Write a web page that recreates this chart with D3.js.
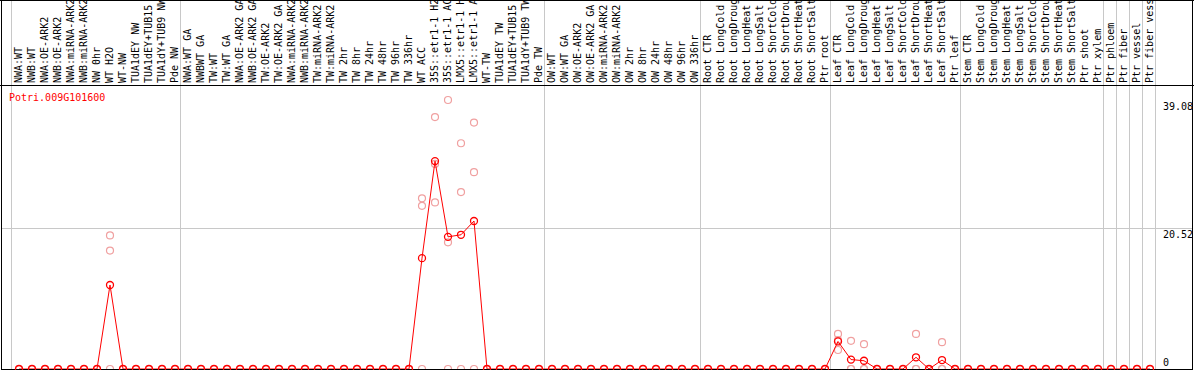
<html>
<head>
<script src="https://d3js.org/d3.v7.min.js" charset="utf-8"></script>
<style>
    body { margin: 0; background: #fff; }
    text { font-family: "DejaVu Sans Mono", monospace; font-size: 10px; }
</style>
</head>
<body>
<script>
    // sample names, as they show in the header (cut to 14 chars)
    var categories = [
        "NWA:WT", "NWB:WT", "NWA:OE-ARK2", "NWB:OE-ARK2", "NWA:miRNA-ARK2", "NWB:miRNA-ARK2", "NW 0hr",
        "WT H2O", "WT-NW", "TUA1dEY NW", "TUA1dEY+TUB15", "TUA1dY+TUB9 NW", "Pde NW",
        "NWA:WT GA", "NWBWT GA", "TW:WT", "TW:WT GA", "NWA:OE-ARK2 GA", "NWB:OE-ARK2 GA", "TW:OE-ARK2",
        "TW:OE-ARK2 GA", "NWA:miRNA-ARK2", "NWB:miRNA-ARK2", "TW:miRNA-ARK2", "TW:miRNA-ARK2", "TW 2hr",
        "TW 8hr", "TW 24hr", "TW 48hr", "TW 96hr", "TW 336hr", "WT ACC", "35S::etr1-1 H2", "35S::etr1-1 AC",
        "LMX5::etr1-1 H", "LMX5::etr1-1 A", "WT-TW", "TUA1dEY TW", "TUA1dEY+TUB15", "TUA1dY+TUB9 TW", "Pde TW",
        "OW:WT", "OW:WT GA", "OW:OE-ARK2", "OW:OE-ARK2 GA", "OW:miRNA-ARK2", "OW:miRNA-ARK2", "OW 2hr",
        "OW 8hr", "OW 24hr", "OW 48hr", "OW 96hr", "OW 336hr",
        "Root CTR", "Root LongCold", "Root LongDroug", "Root LongHeat", "Root LongSalt", "Root ShortCold",
        "Root ShortDrou", "Root ShortHeat", "Root ShortSalt", "Ptr root",
        "Leaf CTR", "Leaf LongCold", "Leaf LongDroug", "Leaf LongHeat", "Leaf LongSalt", "Leaf ShortCold",
        "Leaf ShortDrou", "Leaf ShortHeat", "Leaf ShortSalt", "Ptr leaf",
        "Stem CTR", "Stem LongCold", "Stem LongDroug", "Stem LongHeat", "Stem LongSalt", "Stem ShortCold",
        "Stem ShortDrou", "Stem ShortHeat", "Stem ShortSalt", "Ptr shoot", "Ptr xylem",
        "Ptr phloem", "Ptr fiber", "Ptr vessel", "Ptr fiber vess"
    ];

    // index of the first sample of each group (a grey line goes before it)
    var groupStarts = [0, 13, 41, 53, 63, 73, 84, 85, 86, 87];

    // mean expression per sample (the red line)
    var meanValues = [
        0, 0, 0, 0, 0, 0, 0, 12.2, 0, 0, 0, 0, 0,
        0, 0, 0, 0, 0, 0, 0, 0, 0, 0, 0, 0, 0, 0, 0, 0, 0, 0, 16.1, 30.2, 19.2, 19.5, 21.5, 0, 0, 0, 0, 0,
        0, 0, 0, 0, 0, 0, 0, 0, 0, 0, 0, 0,
        0, 0, 0, 0, 0, 0, 0, 0, 0, 0,
        4.0, 1.37, 1.2, 0, 0, 0, 1.7, 0, 1.3, 0,
        0, 0, 0, 0, 0, 0, 0, 0, 0, 0, 0,
        0, 0, 0, 0
    ];

    // the three replicates (pale circles)
    var rep1 = [
        0, 0, 0, 0, 0, 0, 0, 19.4, 0, 0, 0, 0, 0,
        0, 0, 0, 0, 0, 0, 0, 0, 0, 0, 0, 0, 0, 0, 0, 0, 0, 0, 24.8, 36.6, 39.08, 32.8, 35.8, 0, 0, 0, 0, 0,
        0, 0, 0, 0, 0, 0, 0, 0, 0, 0, 0, 0,
        0, 0, 0, 0, 0, 0, 0, 0, 0, 0,
        5.1, 4.1, 3.6, 0, 0, 0, 5.1, 0, 3.9, 0,
        0, 0, 0, 0, 0, 0, 0, 0, 0, 0, 0,
        0, 0, 0, 0
    ];
    var rep2 = [
        0, 0, 0, 0, 0, 0, 0, 17.2, 0, 0, 0, 0, 0,
        0, 0, 0, 0, 0, 0, 0, 0, 0, 0, 0, 0, 0, 0, 0, 0, 0, 0, 23.7, 29.8, 18.4, 25.7, 28.6, 0, 0, 0, 0, 0,
        0, 0, 0, 0, 0, 0, 0, 0, 0, 0, 0, 0,
        0, 0, 0, 0, 0, 0, 0, 0, 0, 0,
        2.76, 0, 0, 0, 0, 0, 0, 0, 0, 0,
        0, 0, 0, 0, 0, 0, 0, 0, 0, 0, 0,
        0, 0, 0, 0
    ];
    var rep3 = [
        0, 0, 0, 0, 0, 0, 0, 0, 0, 0, 0, 0, 0,
        0, 0, 0, 0, 0, 0, 0, 0, 0, 0, 0, 0, 0, 0, 0, 0, 0, 0, 0, 24.2, 0, 0, 0, 0, 0, 0, 0, 0,
        0, 0, 0, 0, 0, 0, 0, 0, 0, 0, 0, 0,
        0, 0, 0, 0, 0, 0, 0, 0, 0, 0,
        4.2, 0, 0, 0, 0, 0, 0, 0, 0, 0,
        0, 0, 0, 0, 0, 0, 0, 0, 0, 0, 0,
        0, 0, 0, 0
    ];

    var tickValues = [0, 20.52, 39.08];
    var geneName = "Potri.009G101600";

    var width = 1194;
    var height = 370;
    var headerBottom = 85;
    var plotBottom = 369;

    var svg = d3.select("body").append("svg")
        .attr("width", width)
        .attr("height", height);

    var idx = d3.range(categories.length);
    var x = d3.scalePoint().domain(idx).range([19, 1150]);
    var step = x.step();
    var y = d3.scaleLinear().domain([0, d3.max(tickValues)]).range([plotBottom, 100]);

    // grey group separators, top to bottom
    var sepX = groupStarts.map(function(i) { return x(i) - step / 2 - 1.5; });
    sepX.push(x(categories.length - 1) + step / 2 - 1.5);
    svg.selectAll(".sep").data(sepX).enter().append("line")
        .attr("x1", function(d) { return Math.round(d) + 0.5; })
        .attr("x2", function(d) { return Math.round(d) + 0.5; })
        .attr("y1", 0)
        .attr("y2", plotBottom)
        .attr("stroke", "#c8c8c8");

    // grid line for the middle tick only
    svg.selectAll(".grid").data(tickValues.filter(function(d) { return d > 0 && d < d3.max(tickValues); }))
        .enter().append("line")
        .attr("x1", 1)
        .attr("x2", width - 1)
        .attr("y1", function(d) { return Math.round(y(d)) + 0.5; })
        .attr("y2", function(d) { return Math.round(y(d)) + 0.5; })
        .attr("stroke", "#c8c8c8");

    // sample labels, written bottom to top
    svg.selectAll(".lab").data(idx).enter().append("text")
        .attr("transform", function(i) { return "translate(" + (x(i) + 3) + "," + (headerBottom - 2) + ") rotate(-90)"; })
        .attr("fill", "#000")
        .text(function(i) { return categories[i]; });

    // header bottom line
    svg.append("line")
        .attr("x1", 0).attr("x2", width)
        .attr("y1", headerBottom + 0.5).attr("y2", headerBottom + 0.5)
        .attr("stroke", "#000");

    // replicates
    [rep1, rep2, rep3].forEach(function(rep) {
        svg.append("g").selectAll("circle").data(idx).enter().append("circle")
            .attr("cx", function(i) { return x(i); })
            .attr("cy", function(i) { return y(rep[i]); })
            .attr("r", 3.5)
            .attr("fill", "none")
            .attr("stroke", "#f0a0a0")
            .attr("stroke-width", 1.2);
    });

    // mean line
    var line = d3.line()
        .x(function(i) { return x(i); })
        .y(function(i) { return y(meanValues[i]); });
    svg.append("path")
        .datum(idx)
        .attr("d", line)
        .attr("fill", "none")
        .attr("stroke", "#ff0000")
        .attr("stroke-width", 1);

    // bottom axis line
    svg.append("line")
        .attr("x1", 1).attr("x2", width - 1)
        .attr("y1", plotBottom + 0.5).attr("y2", plotBottom + 0.5)
        .attr("stroke", "#000");

    // mean circles
    svg.append("g").selectAll("circle").data(idx).enter().append("circle")
        .attr("cx", function(i) { return x(i); })
        .attr("cy", function(i) { return y(meanValues[i]); })
        .attr("r", 3.5)
        .attr("fill", "none")
        .attr("stroke", "#ff0000")
        .attr("stroke-width", 1.3);

    // outer border
    svg.append("line").attr("x1", 1.5).attr("x2", 1.5).attr("y1", 0).attr("y2", height).attr("stroke", "#000");
    svg.append("line").attr("x1", width - 1.5).attr("x2", width - 1.5).attr("y1", 0).attr("y2", height).attr("stroke", "#000");
    svg.append("line").attr("x1", 0).attr("x2", width).attr("y1", 0.5).attr("y2", 0.5).attr("stroke", "#000");

    // value labels on the right
    svg.selectAll(".tick").data(tickValues).enter().append("text")
        .attr("x", 1163)
        .attr("y", function(d) { return d === 0 ? y(d) - 3 : y(d) + 10; })
        .attr("fill", "#000")
        .text(function(d) { return d; });

    // gene id
    svg.append("text")
        .attr("x", 9)
        .attr("y", 101)
        .attr("fill", "#ff0000")
        .text(geneName);
</script>
</body>
</html>
